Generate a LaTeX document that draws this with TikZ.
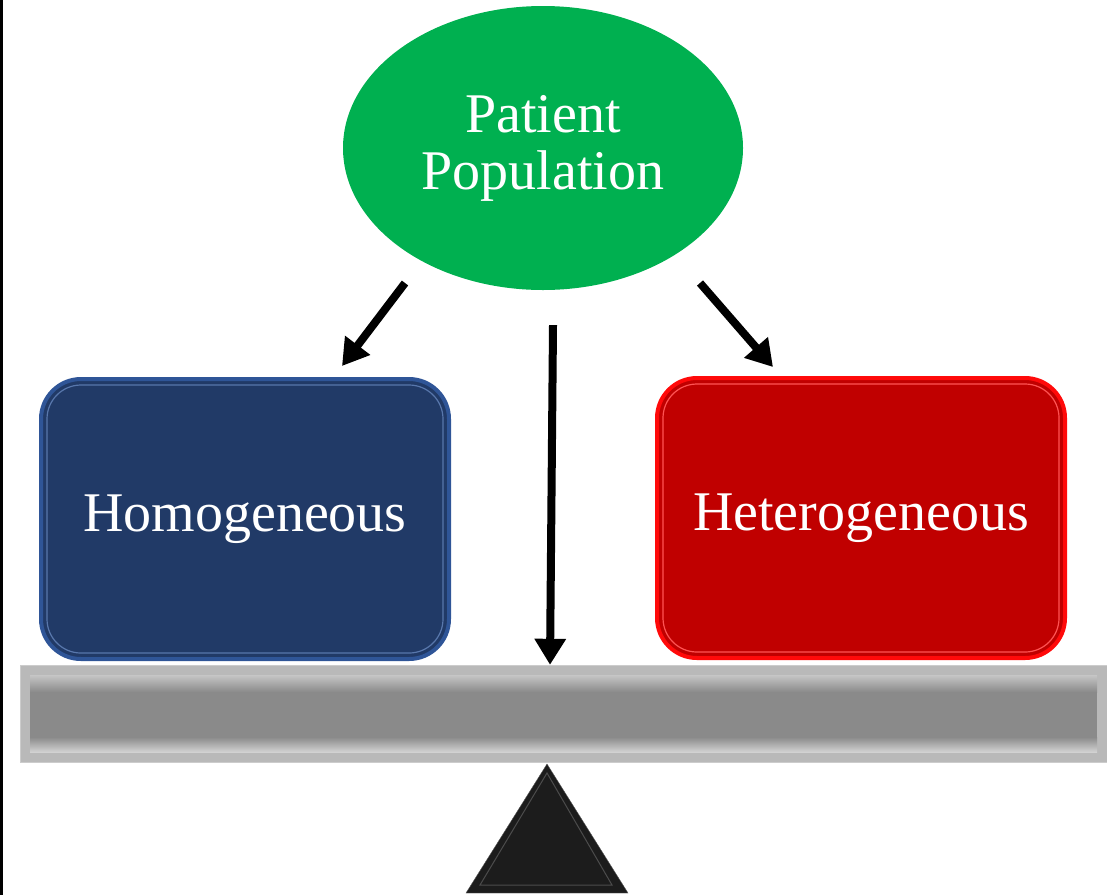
\documentclass[tikz,border=0pt]{standalone}
\usepackage{fontspec}
\setmainfont{Liberation Serif}
\usetikzlibrary{arrows.meta,shapes.geometric}
\definecolor{popgreen}{HTML}{00B050}
\definecolor{homfill}{HTML}{213A67}
\definecolor{homedge}{HTML}{2F5597}
\definecolor{hetfill}{HTML}{C00000}
\definecolor{hetedge}{HTML}{FF0A0A}
\definecolor{beamgray}{HTML}{8A8A8A}
\begin{document}
\begin{tikzpicture}[x=1pt, y=-1pt,
   every node/.style={text=white, font=\fontsize{56}{57}\selectfont, align=center},
   pop/.style={ellipse, fill=popgreen, minimum width=400, minimum height=284, inner sep=0},
   box/.style={rounded corners=40, line width=4, minimum width=408, minimum height=280, inner sep=0},
   arr/.style={line width=8, -{Triangle[length=26pt, width=30pt]}}]

\useasboundingbox (0,0) rectangle (1107,895);
\draw[line width=3] (1.5,0) -- (1.5,895);

\node[pop] (pop) at (543,148) {Patient\\Population};
\node[box, fill=homfill, draw=homedge] (hom) at (245,519) {Homogeneous};
\node[box, fill=hetfill, draw=hetedge] (het) at (861,518) {Heterogeneous};
\draw[rounded corners=34, homedge!80!white, line width=1.2]
    ([xshift=8pt,yshift=-8pt]hom.north west) rectangle ([xshift=-8pt,yshift=8pt]hom.south east);
\draw[rounded corners=34, hetedge!70!white, line width=1.2]
    ([xshift=8pt,yshift=-8pt]het.north west) rectangle ([xshift=-8pt,yshift=8pt]het.south east);

% beam
\node[fill=gray!55, draw=gray!40, minimum width=1087, minimum height=97, inner sep=0] (beam) at (563.5,713.5) {};
\fill[beamgray] (30,675) rectangle (1097,752);
\shade[top color=gray!45, bottom color=beamgray] (30,675) rectangle (1097,692);
\shade[top color=beamgray, bottom color=gray!35] (30,737) rectangle (1097,752);

% fulcrum
\coordinate (tip) at (547,764);
\filldraw[fill=black!89, draw=gray!70!black] (tip) -- (628,893) -- (466,893) -- cycle;
\draw[gray!60!black, line width=1] (547,773) -- (612,885) -- (480,885) -- cycle;

\draw[arr] ([xshift=-138pt,yshift=-135pt]pop.center) -- ([xshift=97pt,yshift=11pt]hom.north);
\draw[arr] ([xshift=157pt,yshift=-135pt]pop.center) -- ([xshift=-88pt,yshift=9pt]het.north);
\draw[arr] ([xshift=10pt,yshift=-35pt]pop.south) -- ([xshift=-13.5pt]beam.north);

\end{tikzpicture}
\end{document}
